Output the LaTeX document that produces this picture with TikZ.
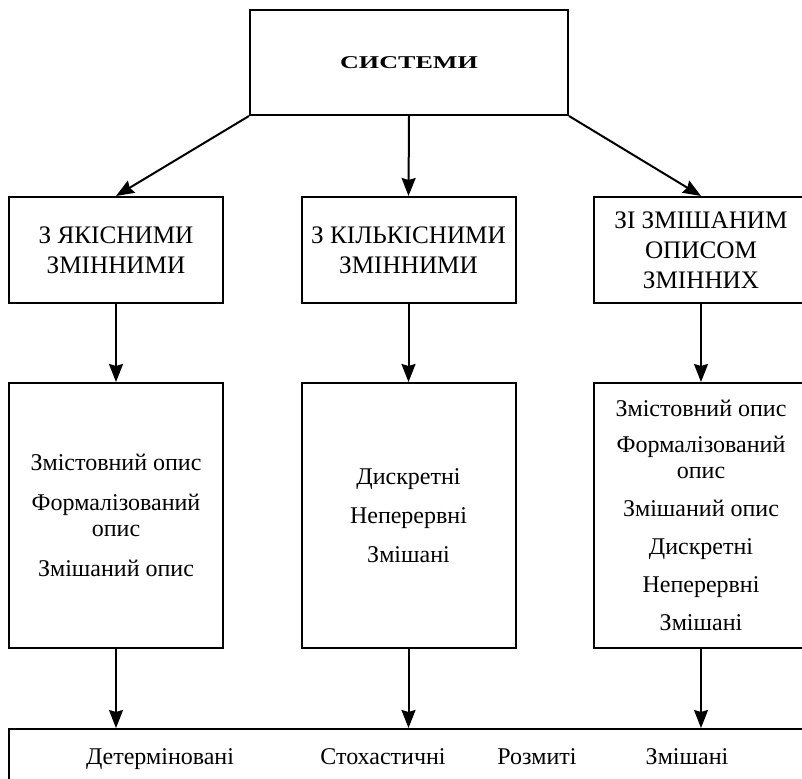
\documentclass[tikz,border=0pt]{standalone}
\usepackage{fontspec}
\setmainfont{Liberation Serif}
\newfontfamily\titlefont[FakeStretch=1.45]{Liberation Serif}
\usepackage{tikz}
\usetikzlibrary{arrows.meta}
\tikzstyle{sysbox} = [draw=black, line width=1pt, rectangle, minimum width=159pt, minimum height=52.5pt, font=\titlefont\bfseries\fontsize{9}{11}\selectfont]
\tikzstyle{headbox} = [draw=black, line width=1pt, rectangle, minimum width=107pt, minimum height=53pt, align=center, inner sep=2pt, font=\fontsize{12.6}{15}\selectfont]
\tikzstyle{listbox} = [draw=black, line width=1pt, rectangle, minimum width=107pt, minimum height=132.5pt, align=center, inner sep=2pt, font=\fontsize{12}{13}\selectfont]
\tikzstyle{kind} = [anchor=base, font=\fontsize{12}{13}\selectfont]
\tikzstyle{arr} = [line width=1pt, -{Stealth[length=9pt,width=7pt,inset=1pt]}]

\begin{document}
\begin{tikzpicture}[x=0.5pt,y=-0.5pt]
\useasboundingbox (0,0) rectangle (802,779);
\clip (0,0) rectangle (802,779);
\node[sysbox] (sys) at (409,62.5) {СИСТЕМИ};
\node[headbox] (qual) at (116,250) {З ЯКІСНИМИ\\ЗМІННИМИ};
\node[headbox] (quant) at (408.5,250) {З КІЛЬКІСНИМИ\\ЗМІННИМИ};
\node[headbox] (mixed) at (701,250) {ЗІ ЗМІШАНИМ\\ОПИСОМ\\ЗМІННИХ};
\node[listbox] (qualdesc) at (116,515.5) {Змістовний опис\\[7pt]Формалізований\\опис\\[7pt]Змішаний опис};
\node[listbox] (quantdesc) at (408.5,515.5) {Дискретні\\[6.5pt]Неперервні\\[6.5pt]Змішані};
\node[listbox] (mixeddesc) at (701,515.5) {Змістовний опис\\[5pt]Формалізований\\опис\\[6pt]Змішаний опис\\[6pt]Дискретні\\[6pt]Неперервні\\[6pt]Змішані};
\node[draw=black, line width=1pt, rectangle, anchor=north west, minimum width=420pt, minimum height=50pt] (classes) at (8,728) {};
\node[kind] (det) at (160,764) {Детерміновані};
\node[kind] (sto) at (383,764) {Стохастичні};
\node[kind] (fuz) at (537,764) {Розмиті};
\node[kind] (mix) at (687,764) {Змішані};
\draw[arr] (sys.south west) -- (qual.north);
\draw[arr] (sys.south) -- (quant.north);
\draw[arr] (sys.south east) -- (mixed.north);
\draw[arr] (qual.south) -- (qualdesc.north);
\draw[arr] (quant.south) -- (quantdesc.north);
\draw[arr] (mixed.south) -- (mixeddesc.north);
\draw[arr] (qualdesc.south) -- (qualdesc.south |- classes.north);
\draw[arr] (quantdesc.south) -- (quantdesc.south |- classes.north);
\draw[arr] (mixeddesc.south) -- (mixeddesc.south |- classes.north);
\end{tikzpicture}
\end{document}
